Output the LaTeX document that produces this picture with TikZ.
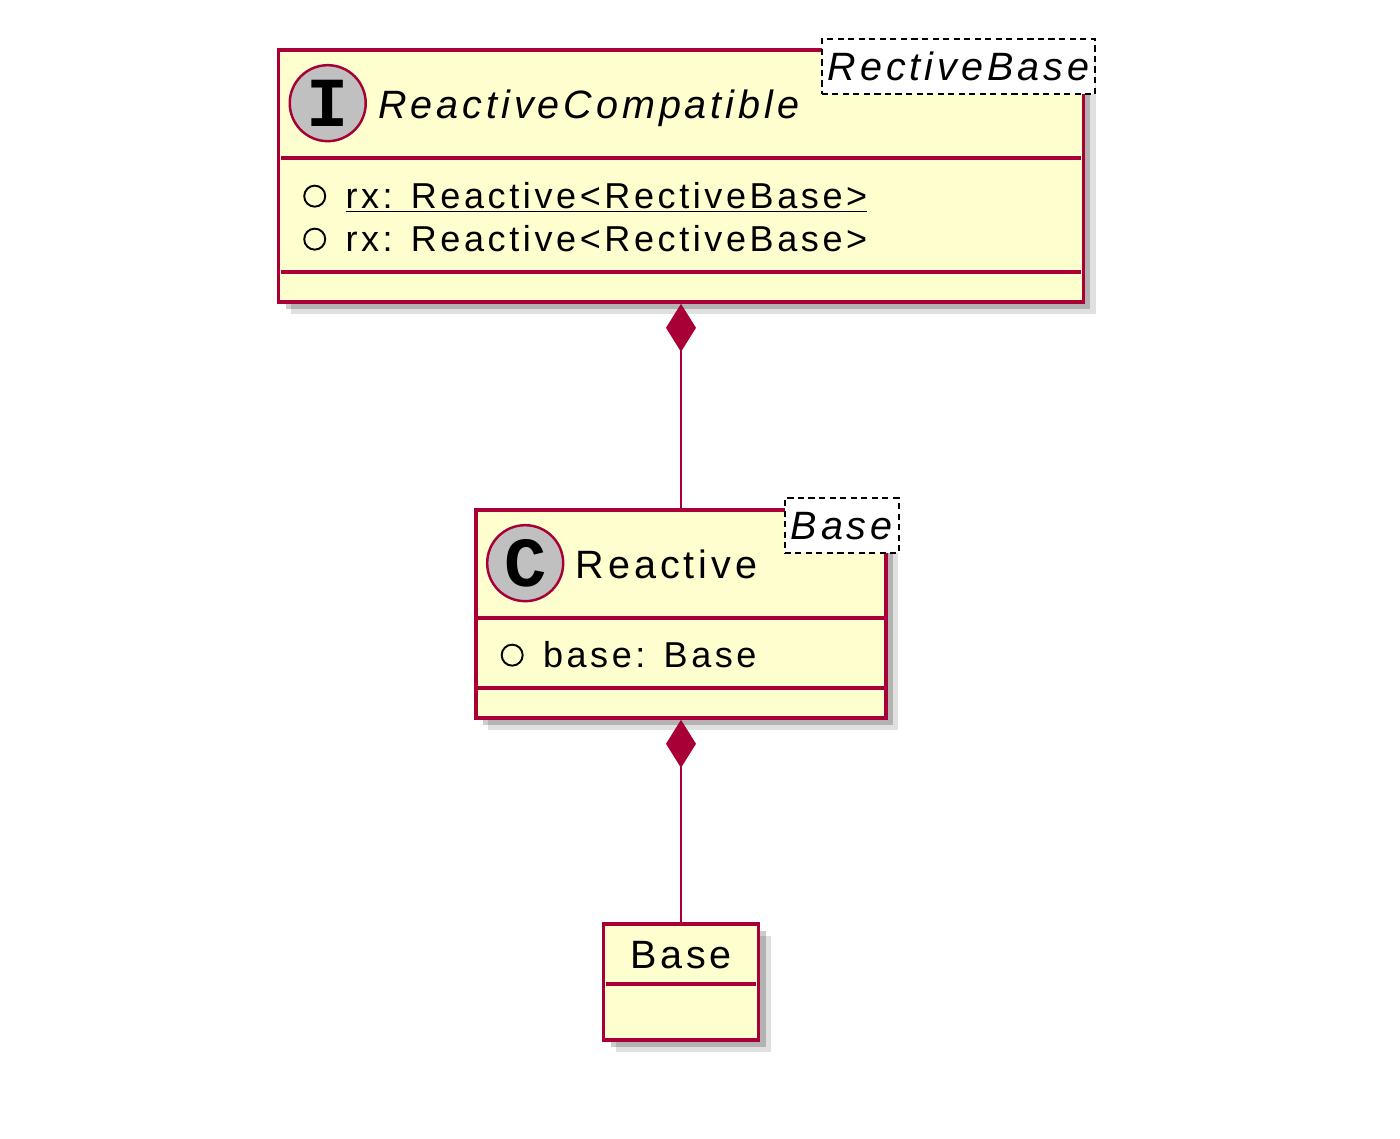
\documentclass[tikz,border=0pt]{standalone}
\usepackage{fontspec}
\setmainfont{Liberation Sans}[LetterSpace=10]
\newfontfamily\iconfont{Liberation Mono}
\usetikzlibrary{positioning,arrows.meta,shadows}

\definecolor{umlred}{HTML}{A80036}
\definecolor{umlfill}{HTML}{FEFECE}
\definecolor{icongray}{HTML}{C0C0C0}

\begin{document}
\begin{tikzpicture}[
  x=0.02cm, y=-0.02cm,
  classbox/.style={draw=umlred, fill=umlfill, line width=2.1pt, inner sep=0pt,
    drop shadow={shadow xshift=7pt, shadow yshift=-7pt, opacity=0.12, fill=black},
    drop shadow={shadow xshift=4pt, shadow yshift=-4pt, opacity=0.2, fill=black}},
  sepline/.style={draw=umlred, line width=2.2pt},
  classicon/.style={circle, draw=umlred, fill=icongray, line width=1.4pt, minimum size=1.52cm,
    inner sep=0pt, font=\iconfont\bfseries\fontsize{40}{40}\selectfont},
  classname/.style={anchor=base west, inner sep=0pt, font=\fontsize{22.5}{26}\selectfont},
  stereo/.style={draw, dashed, dash pattern=on 3.5pt off 2.5pt, fill=white, line width=1.3pt,
    inner xsep=0.12cm, inner ysep=0pt, minimum height=1.1cm, anchor=north east,
    font=\fontsize{22.5}{26}\selectfont\itshape},
  attrdot/.style={circle, draw=black, line width=1.1pt, minimum size=0.42cm, inner sep=0pt},
  attr/.style={anchor=base west, inner sep=0pt, font=\fontsize{20.5}{24}\selectfont},
  comp/.style={draw=umlred, line width=1.2pt, arrows={Diamond[length=0.96cm, width=0.6cm]-}}
]
\useasboundingbox (0,0) rectangle (1400,1139);

% ReactiveCompatible
\node[classbox, minimum width=16.1cm, minimum height=5.04cm] (compat) at (681,176) {};
\node[stereo] (compatstereo) at ([xshift=0.22cm, yshift=0.2cm]compat.north east) {RectiveBase};
\node[classicon] (compaticon) at ([xshift=1.02cm, yshift=-1.1cm]compat.north west) {I};
\node[classname, font=\fontsize{22.5}{26}\selectfont\itshape] (compatname)
  at ([xshift=0.22cm, yshift=-0.3cm]compaticon.east) {ReactiveCompatible};
\draw[sepline] ([shift={(0.08cm,-2.2cm)}]compat.north west) -- ([shift={(-0.08cm,-2.2cm)}]compat.north east);
\draw[sepline] ([shift={(0.08cm,-4.48cm)}]compat.north west) -- ([shift={(-0.08cm,-4.48cm)}]compat.north east);
\node[attrdot] (rxdotA) at ([shift={(0.76cm,-2.96cm)}]compat.north west) {};
\node[attr] (rxA) at ([xshift=0.38cm, yshift=-0.25cm]rxdotA.east) {\underline{rx: Reactive<RectiveBase>}};
\node[attrdot] (rxdotB) at ([shift={(0.76cm,-3.82cm)}]compat.north west) {};
\node[attr] (rxB) at ([xshift=0.38cm, yshift=-0.25cm]rxdotB.east) {rx: Reactive<RectiveBase>};

% Reactive
\node[classbox, minimum width=8.2cm, minimum height=4.16cm] (reactive) at (681,614) {};
\node[stereo] (reactivestereo) at ([xshift=0.24cm, yshift=0.22cm]reactive.north east) {Base};
\node[classicon] (reactiveicon) at ([xshift=1.02cm, yshift=-1.1cm]reactive.north west) {C};
\node[classname] (reactivename) at ([xshift=0.22cm, yshift=-0.3cm]reactiveicon.east) {Reactive};
\draw[sepline] ([shift={(0.08cm,-2.2cm)}]reactive.north west) -- ([shift={(-0.08cm,-2.2cm)}]reactive.north east);
\draw[sepline] ([shift={(0.08cm,-3.6cm)}]reactive.north west) -- ([shift={(-0.08cm,-3.6cm)}]reactive.north east);
\node[attrdot] (basedot) at ([shift={(0.76cm,-2.94cm)}]reactive.north west) {};
\node[attr] (baseattr) at ([xshift=0.38cm, yshift=-0.25cm]basedot.east) {base: Base};

% Base
\node[classbox, minimum width=3.1cm, minimum height=2.32cm] (base) at (681,982) {};
\node[classname, anchor=base] (basename) at ([yshift=-0.92cm]base.north) {Base};
\draw[sepline] ([shift={(0.08cm,-1.24cm)}]base.north west) -- ([shift={(-0.08cm,-1.24cm)}]base.north east);

% compositions
\draw[comp] (compat.south) -- (reactive.north);
\draw[comp] (reactive.south) -- (base.north);
\end{tikzpicture}
\end{document}
